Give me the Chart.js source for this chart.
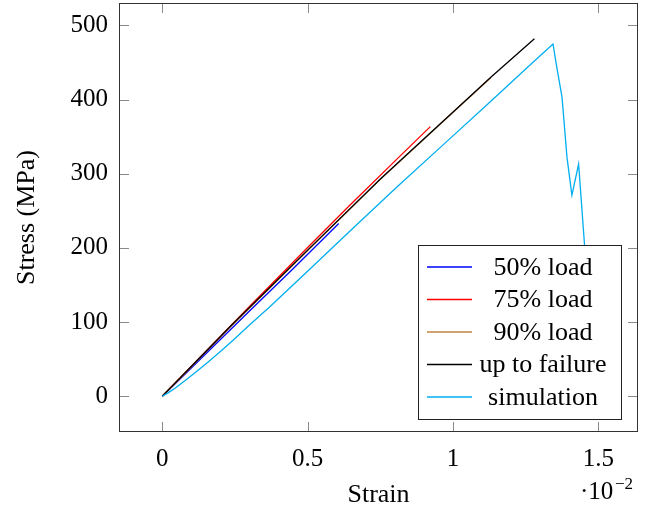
<!DOCTYPE html>
<html><head><meta charset="utf-8">
<script src="https://cdn.jsdelivr.net/npm/chart.js@4.4.0/dist/chart.umd.min.js"></script>
<style>html,body{margin:0;padding:0;background:#fff}</style>
</head><body>
<canvas id="c" width="655" height="506" style="display:block;width:655px;height:506px"></canvas>
<script>
const xTicks=[0,0.5,1,1.5];
const yTicks=[0,100,200,300,400,500];
const seriesNames=["50% load","75% load","90% load","up to failure","simulation"];
const seriesColors=["#0000ff","#ff0000","#bf8040","#000000","#00aeef"];
const load50X=[0,0.1,0.3,0.45,0.607];
const load50Y=[0,38,115,172,233];
const load75X=[0,0.1,0.3,0.5,0.645,0.8,0.922];
const load75Y=[0,40.5,121,200.5,257.5,317,363.5];
const load90X=[0,0.234,0.5,0.75,0.991,1.13];
const load90Y=[0,93.4,196.4,292.4,379.4,429.4];
const failX=[0,0.234,0.5,0.75,0.991,1.13,1.28];
const failY=[0,94,197,293,380,430,482];
const simX=[0,0.02,0.045,0.08,0.12,0.16,0.205,0.25,0.3,0.371,0.509,0.644,0.807,0.98,1.117,1.277,1.344,1.355,1.375,1.392,1.409,1.432,1.452,1.4875];
const simY=[0,4.5,11,21.5,34,47,62,78,96,121,172,222,282,344,393,451,475,448,403,322,271,313,206,20];

const FONT='"Liberation Serif","Times New Roman",serif';
function pts(xs,ys){return xs.map((v,i)=>({x:v,y:ys[i]}));}
const xsAll=[load50X,load75X,load90X,failX,simX];
const ysAll=[load50Y,load75Y,load90Y,failY,simY];
const datasets=seriesNames.map((n,i)=>({label:n,data:pts(xsAll[i],ysAll[i]),borderColor:seriesColors[i],backgroundColor:seriesColors[i],borderWidth:1.3,pointRadius:0,showLine:true,tension:0,order:-i}));
// enlarge limits 10% as pgfplots
const xmin=0,xmax=1.4875,ymin=0,ymax=482;
const dx=(xmax-xmin)*0.1,dy=(ymax-ymin)*0.1;

function L(ctx,x1,y1,x2,y2){ctx.beginPath();ctx.moveTo(x1,y1);ctx.lineTo(x2,y2);ctx.stroke();}
const deco={id:'deco',afterDatasetsDraw(chart){
  const {ctx,chartArea:a,scales:{x,y}}=chart;
  ctx.save();
  // legend
  const lx=418,ly=245,lw=203,lh=174;
  ctx.fillStyle='#fff';ctx.fillRect(lx,ly,lw,lh);
  ctx.strokeStyle='#222';ctx.lineWidth=1;ctx.strokeRect(lx+0.5,ly+0.5,lw,lh);
  ctx.font='26px '+FONT;ctx.textAlign='center';ctx.textBaseline='middle';
  seriesNames.forEach((n,i)=>{
    const ry=267+i*32.5;
    ctx.strokeStyle=seriesColors[i];ctx.lineWidth=1.3;
    L(ctx,427,ry,472,ry);
    ctx.fillStyle='#000';ctx.fillText(n,543,ry+1);
  });
  // ticks
  ctx.strokeStyle='#8a8a8a';ctx.lineWidth=1;
  const T=10;
  xTicks.forEach(v=>{const px=Math.round(x.getPixelForValue(v))+0.5;L(ctx,px,a.bottom,px,a.bottom-T);L(ctx,px,a.top,px,a.top+T);});
  yTicks.forEach(v=>{const py=Math.round(y.getPixelForValue(v))+0.5;L(ctx,a.left,py,a.left+T,py);L(ctx,a.right,py,a.right-T,py);});
  // frame
  ctx.strokeStyle='#333';ctx.lineWidth=1;
  ctx.strokeRect(a.left+0.5,a.top+0.5,a.right-a.left-1,a.bottom-a.top-1);
  // titles
  ctx.fillStyle='#000';ctx.font='26px '+FONT;ctx.textAlign='center';ctx.textBaseline='alphabetic';
  ctx.fillText('Strain',(a.left+a.right)/2,502);
  ctx.save();ctx.translate(34,(a.top+a.bottom)/2);ctx.rotate(-Math.PI/2);ctx.fillText('Stress (MPa)',0,0);ctx.restore();
  ctx.textAlign='left';ctx.font='25px '+FONT;
  ctx.fillText('\u00b710',580,499);
  ctx.font='17px '+FONT;ctx.fillText('\u22122',615,489);
  ctx.restore();
}};

new Chart(document.getElementById('c'),{
  type:'scatter',
  data:{datasets},
  options:{
    responsive:false,animation:false,
    layout:{padding:{left:0,right:17,top:3,bottom:0}},
    plugins:{legend:{display:false},tooltip:{enabled:false}},
    scales:{
      x:{type:'linear',min:xmin-dx,max:xmax+dx,
        grid:{display:false,drawTicks:false},border:{display:false},
        afterBuildTicks:s=>{s.ticks=xTicks.map(v=>({value:v}));},
        afterFit:s=>{s.height=74;s.paddingLeft=0;s.paddingRight=0;},
        ticks:{padding:12,color:'#000',font:{family:FONT,size:25},callback:v=>String(v),maxRotation:0}},
      y:{type:'linear',min:ymin-dy,max:ymax+dy,
        grid:{display:false,drawTicks:false},border:{display:false},
        afterBuildTicks:s=>{s.ticks=yTicks.map(v=>({value:v}));},
        afterFit:s=>{s.width=119;s.paddingTop=0;s.paddingBottom=0;},
        ticks:{padding:11,color:'#000',font:{family:FONT,size:25},callback:v=>String(v)}}
    }
  },
  plugins:[deco]
});
</script>
</body></html>
